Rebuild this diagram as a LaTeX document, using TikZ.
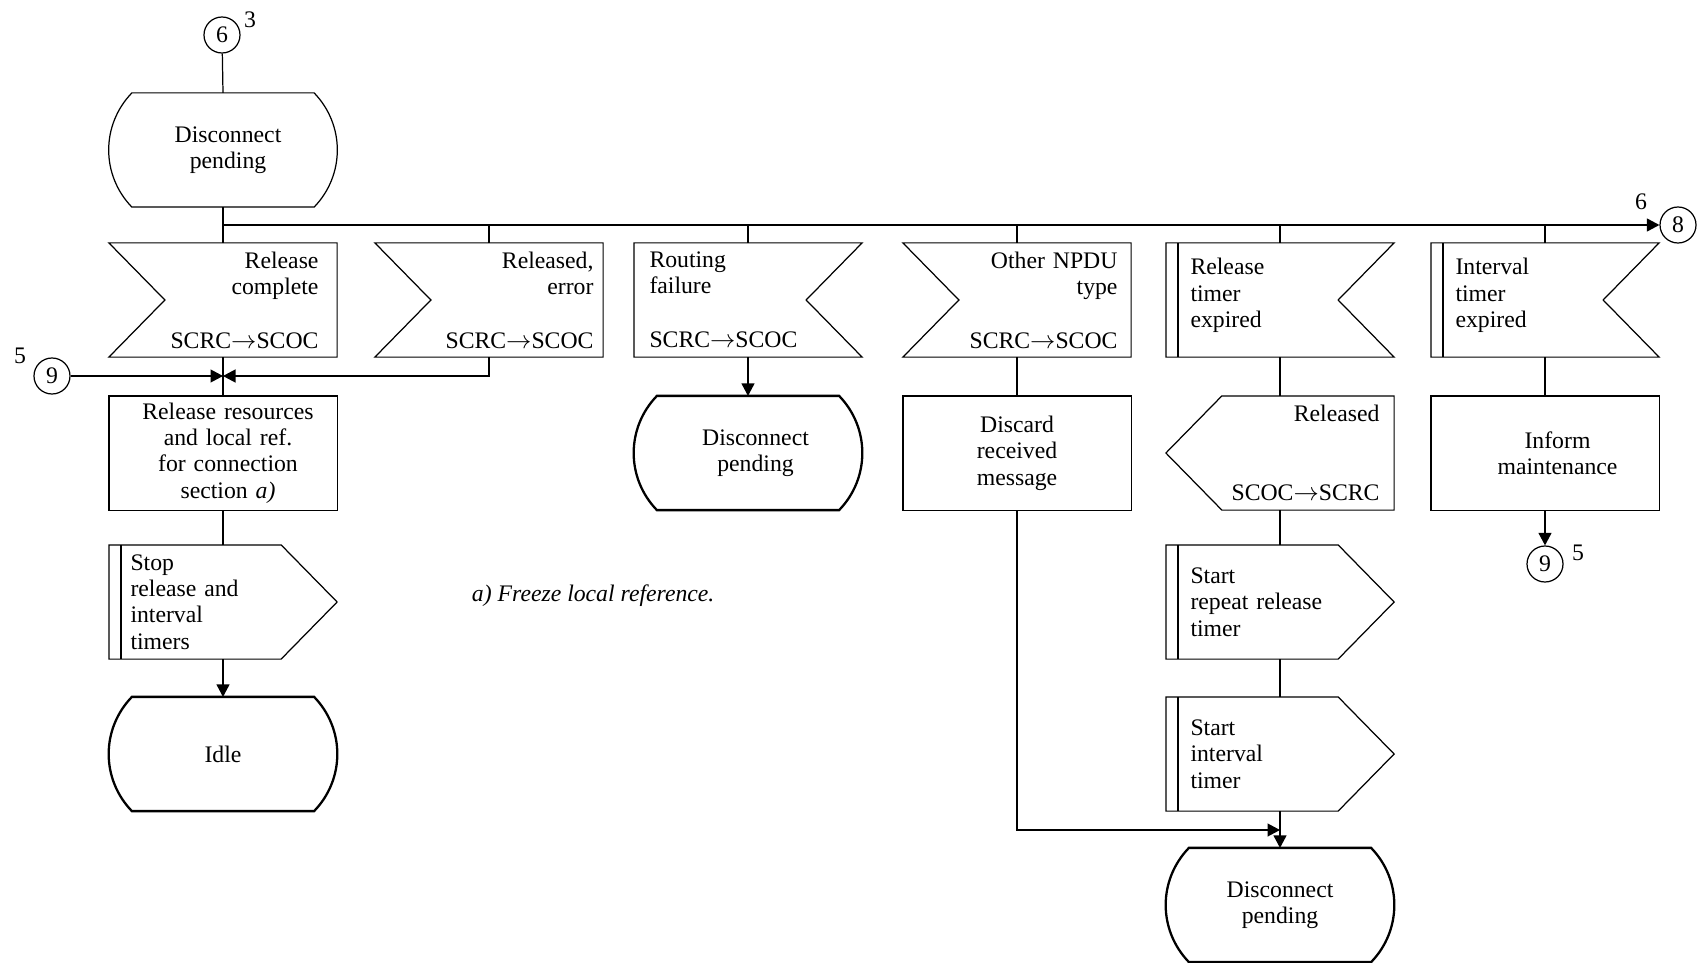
\documentclass[tikz,border=0pt]{standalone}
\usepackage{fontspec}
\setmainfont{Liberation Serif}
\usetikzlibrary{positioning}
\usetikzlibrary{arrows.meta}
\tikzset{
	every node/.style = {font=\fontsize{13.5}{15}\selectfont}
}
\tikzset{
	block/.style = {minimum width=4.54cm, minimum height=2.26cm, inner sep=0pt, text width=#1},
	block/.default = 4.2cm,
	blockL/.style = {block=#1, align=left},
	blockR/.style = {block=#1, align=right},
	blockC/.style = {block, align=center},
	conn/.style = {circle, draw, minimum size=0.72cm, inner sep=0pt},
	num/.style = {inner sep=0pt},
	flow/.style = {-{Triangle[length=0.25cm,width=0.26cm]}},
	heavy/.style = {line width=1.3pt}
}
% outlines drawn round a named block
\newcommand\sdlstate[2][]{\draw[#1] ([xshift=\arcin]#2.north west) -- ([xshift=-\arcin]#2.north east)
    to[bend left=44] ([xshift=-\arcin]#2.south east) -- ([xshift=\arcin]#2.south west)
    to[bend left=44] ([xshift=\arcin]#2.north west) -- cycle;}
\newcommand\sdlin[1]{\draw (#1.north west) -- (#1.north east) -- (#1.south east) -- (#1.south west) -- ([xshift=\notch]#1.west) -- cycle;}
\newcommand\sdlinR[1]{\draw (#1.north west) -- (#1.north east) -- ([xshift=-\notch]#1.east) -- (#1.south east) -- (#1.south west) -- cycle;}
\newcommand\sdlout[1]{\draw (#1.north west) -- ([xshift=-\notch]#1.north east) -- (#1.east) -- ([xshift=-\notch]#1.south east) -- (#1.south west) -- cycle;}
\newcommand\sdloutL[1]{\draw ([xshift=\notch]#1.north west) -- (#1.north east) -- (#1.south east) -- ([xshift=\notch]#1.south west) -- (#1.west) -- cycle;}
\newcommand\sdlbox[1]{\draw (#1.north west) rectangle (#1.south east);}
\newcommand\sdlbar[1]{\draw[line width=1pt] ([xshift=\barin]#1.north west) -- ([xshift=\barin]#1.south west);}

\begin{document}
\begin{tikzpicture}[line width=0.7pt]
        \def\notch{1.12cm}                          % depth of signal notches and points
        \def\arcin{0.46cm}                          % inset of the state arcs
        \def\barin{0.24cm}                          % inset of the inner bar

        \useasboundingbox (0,0) rectangle (34,-19.26);

        % Entry connector and starting state
        \node[conn] (c6) at (4.44,-0.70) {6};
        \node[num] (c6num) at (5.00,-0.40) {3};
        \node[blockC] (pend) at (4.46,-3.00) {\hspace*{0.2cm}Disconnect\\\hspace*{0.2cm}pending};
        \sdlstate{pend}

        % Received signals
        \node[blockR=3.82cm] (relc) at (4.46,-6.00) {Release\\complete\\[0.55cm]SCRC$\rightarrow$SCOC};
        \node[blockR=4.18cm] (relerr) at (9.78,-6.00) {Released,\\error\\[0.55cm]SCRC$\rightarrow$SCOC};
        \node[blockL=3.94cm] (routf) at (14.96,-6.00) {Routing\\failure\\[0.55cm]SCRC$\rightarrow$SCOC};
        \node[blockR=4.02cm] (other) at (20.34,-6.00) {Other NPDU\\type\\[0.55cm]SCRC$\rightarrow$SCOC};
        \node[blockL=3.58cm] (reltim) at (25.60,-6.00) {Release\\timer\\expired\\[-0.25cm]\mbox{}};
        \node[blockL=3.58cm] (inttim) at (30.90,-6.00) {Interval\\timer\\expired\\[-0.25cm]\mbox{}};
        \sdlin{relc}
        \sdlin{relerr}
        \sdlinR{routf}
        \sdlin{other}
        \sdlinR{reltim}
        \sdlbar{reltim}
        \sdlinR{inttim}
        \sdlbar{inttim}

        % Exit connector on the bus
        \node[conn] (c8) at (33.56,-4.50) {8};
        \node[num] (c8num) at (32.82,-4.04) {6};

        % Second row
        \node[conn] (c9a) at (1.04,-7.52) {9};
        \node[num] (c9anum) at (0.40,-7.12) {5};
        \node[blockC] (relres) at (4.46,-9.06) {\hspace*{0.2cm}Release resources\\\hspace*{0.2cm}and local ref.\\\hspace*{0.2cm}for connection\\\hspace*{0.2cm}section \textit{a)}};
        \node[blockC] (pend2) at (14.96,-9.06) {\hspace*{0.3cm}Disconnect\\\hspace*{0.3cm}pending};
        \node[blockC] (discard) at (20.34,-9.06) {Discard\\received\\message};
        \node[blockR=3.98cm] (released) at (25.60,-9.06) {Released\\[1.05cm]SCOC$\rightarrow$SCRC};
        \node[blockC] (inform) at (30.90,-9.06) {\hspace*{0.5cm}Inform\\\hspace*{0.5cm}maintenance};
        \sdlbox{relres}
        \sdlstate[heavy]{pend2}
        \sdlbox{discard}
        \sdloutL{released}
        \sdlbox{inform}
        \node[conn] (c9b) at (30.90,-11.28) {9};
        \node[num] (c9bnum) at (31.56,-11.06) {5};

        % Timer tasks and final states
        \node[blockL=3.70cm] (stop) at (4.46,-12.04) {Stop\\release and\\interval\\timers};
        \node[blockL=3.58cm] (startrep) at (25.60,-12.04) {Start\\repeat release\\timer};
        \node[blockL=3.58cm] (startint) at (25.60,-15.08) {Start\\interval\\timer};
        \node[blockC] (idle) at (4.46,-15.08) {Idle};
        \node[blockC] (pend3) at (25.60,-18.10) {Disconnect\\pending};
        \sdlout{stop}
        \sdlbar{stop}
        \sdlout{startrep}
        \sdlbar{startrep}
        \sdlout{startint}
        \sdlbar{startint}
        \sdlstate[heavy]{idle}
        \sdlstate[heavy]{pend3}

        \node[anchor=west, font=\fontsize{13.5}{15}\selectfont\itshape] (note) at (9.31,-11.92) {a) Freeze local reference.};

        % Connectors
        \draw (c6) -- (pend.north);
        \draw (pend.south) -- (relc.north);
        \draw[flow] (pend.south |- c8.west) -- (c8.west);
        \foreach \n in {relerr, routf, other, reltim, inttim}
            \draw (\n.north) -- (\n.north |- c8.west);
        \draw (relc.south) -- (relres.north);
        \coordinate (join) at (relc.south |- c9a.east);
        \draw[flow] (c9a.east) -- (join);
        \draw[flow] (relerr.south) |- (join);
        \draw (relres.south) -- (stop.north);
        \draw[flow] (stop.south) -- (idle.north);
        \draw[flow] (routf.south) -- (pend2.north);
        \draw (other.south) -- (discard.north);
        \coordinate (mergey) at (0,-16.60);
        \coordinate (merge) at (pend3.north |- mergey);
        \draw[flow] (discard.south) |- (merge);
        \draw (reltim.south) -- (released.north);
        \draw (released.south) -- (startrep.north);
        \draw (startrep.south) -- (startint.north);
        \draw[flow] (startint.south) -- (pend3.north);
        \draw (inttim.south) -- (inform.north);
        \draw[flow] (inform.south) -- (c9b.north);
\end{tikzpicture}
\end{document}
